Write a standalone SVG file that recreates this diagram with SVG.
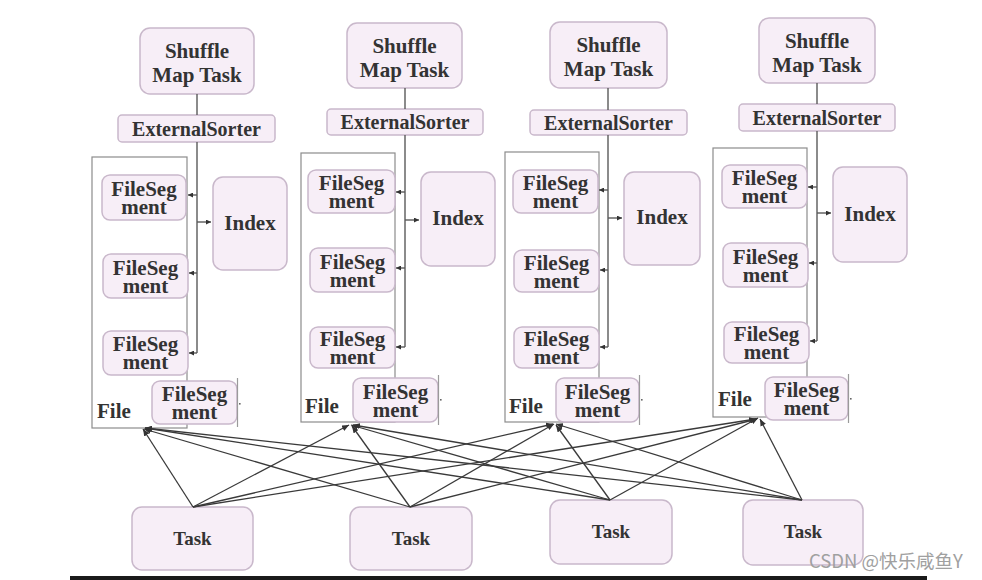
<svg xmlns="http://www.w3.org/2000/svg" width="982" height="580" viewBox="0 0 982 580">
<style>
.box{fill:#f7eef7;stroke:#c9b8cb;stroke-width:1.5}
.file{fill:none;stroke:#8c8c8c;stroke-width:1.2}
.t{font-family:"Liberation Serif","Times New Roman",serif;font-weight:bold;font-size:21px;fill:#333;text-anchor:middle}
.es{font-size:20px}
.task{font-size:19px}
.lft{text-anchor:start}
.wire{stroke:#5a5a5a;stroke-width:1.4;fill:none}
.link{stroke:#3a3a3a;stroke-width:1.3;fill:none}
.edge{stroke:#9a9a9a;stroke-width:1.2}
.wm{font-family:"Noto Sans CJK SC","Noto Sans",sans-serif;font-size:18.5px;fill:#a0a0a0}
</style>
<defs>
<marker id="ah" markerUnits="userSpaceOnUse" markerWidth="7" markerHeight="6" refX="7" refY="3" orient="auto">
<path d="M0,0 L7,3 L0,6 z" fill="#333"/>
</marker>
<marker id="as" markerUnits="userSpaceOnUse" markerWidth="5" markerHeight="5" refX="5" refY="2.5" orient="auto">
<path d="M0,0 L5,2.5 L0,5 z" fill="#333"/>
</marker>
</defs>
<rect width="982" height="580" fill="#fff"/>

<!-- Column 1 -->
<g id="file1"><rect class="file" x="92" y="157" width="95" height="271"/><text class="t lft" x="97" y="418">File</text></g>
<g id="smt1"><rect class="box" x="140" y="28" width="114" height="66" rx="10"/><text class="t" x="197" y="58">Shuffle</text><text class="t" x="197" y="82">Map Task</text></g>
<g id="es1"><rect class="box" x="118" y="115" width="157" height="27" rx="4"/><text class="t es" x="196.5" y="135.5">ExternalSorter</text></g>
<g id="fs1a"><rect class="box" x="102" y="175" width="84" height="45" rx="8"/><text class="t" x="144" y="195.5">FileSeg</text><text class="t" x="144" y="213.5">ment</text></g>
<g id="idx1"><rect class="box" x="213" y="177" width="74" height="93" rx="10"/><text class="t" x="250" y="230">Index</text></g>
<g id="fs1b"><rect class="box" x="103" y="254" width="85" height="44" rx="8"/><text class="t" x="145.5" y="274.5">FileSeg</text><text class="t" x="145.5" y="292.5">ment</text></g>
<g id="fs1c"><rect class="box" x="103" y="331" width="85" height="44" rx="8"/><text class="t" x="145.5" y="351">FileSeg</text><text class="t" x="145.5" y="369">ment</text></g>
<g id="fs1d"><rect class="box" x="152" y="381" width="85" height="43" rx="8"/><line class="edge" x1="237.5" y1="378" x2="237.5" y2="427"/><rect x="239" y="403" width="1.6" height="1.6" fill="#666"/><text class="t" x="194.5" y="401">FileSeg</text><text class="t" x="194.5" y="419">ment</text></g>

<!-- Column 2 -->
<g id="file2"><rect class="file" x="301" y="153" width="94" height="269"/><text class="t lft" x="305" y="413">File</text></g>
<g id="smt2"><rect class="box" x="347" y="23" width="115" height="65" rx="10"/><text class="t" x="404.5" y="53">Shuffle</text><text class="t" x="404.5" y="77">Map Task</text></g>
<g id="es2"><rect class="box" x="327" y="109" width="156" height="26" rx="4"/><text class="t es" x="405" y="129">ExternalSorter</text></g>
<g id="fs2a"><rect class="box" x="308" y="170" width="87" height="43" rx="8"/><text class="t" x="351.5" y="190">FileSeg</text><text class="t" x="351.5" y="208">ment</text></g>
<g id="idx2"><rect class="box" x="421" y="172" width="74" height="94" rx="10"/><text class="t" x="458" y="225">Index</text></g>
<g id="fs2b"><rect class="box" x="310" y="248" width="85" height="44" rx="8"/><text class="t" x="352.5" y="268.5">FileSeg</text><text class="t" x="352.5" y="286.5">ment</text></g>
<g id="fs2c"><rect class="box" x="310" y="327" width="85" height="41" rx="8"/><text class="t" x="352.5" y="346">FileSeg</text><text class="t" x="352.5" y="364">ment</text></g>
<g id="fs2d"><rect class="box" x="353" y="378" width="85" height="44" rx="8"/><line class="edge" x1="438.5" y1="375" x2="438.5" y2="425"/><rect x="440" y="399" width="1.6" height="1.6" fill="#666"/><text class="t" x="395.5" y="398.5">FileSeg</text><text class="t" x="395.5" y="416.5">ment</text></g>

<!-- Column 3 -->
<g id="file3"><rect class="file" x="505" y="152" width="94" height="270"/><text class="t lft" x="509" y="413">File</text></g>
<g id="smt3"><rect class="box" x="550" y="22" width="117" height="66" rx="10"/><text class="t" x="608.5" y="52">Shuffle</text><text class="t" x="608.5" y="76">Map Task</text></g>
<g id="es3"><rect class="box" x="530" y="110" width="157" height="25" rx="4"/><text class="t es" x="608.5" y="129.5">ExternalSorter</text></g>
<g id="fs3a"><rect class="box" x="513" y="170" width="85" height="43" rx="8"/><text class="t" x="555.5" y="190">FileSeg</text><text class="t" x="555.5" y="208">ment</text></g>
<g id="idx3"><rect class="box" x="624" y="172" width="76" height="93" rx="10"/><text class="t" x="662" y="224">Index</text></g>
<g id="fs3b"><rect class="box" x="514" y="250" width="85" height="42" rx="8"/><text class="t" x="556.5" y="269.5">FileSeg</text><text class="t" x="556.5" y="287.5">ment</text></g>
<g id="fs3c"><rect class="box" x="514" y="327" width="85" height="41" rx="8"/><text class="t" x="556.5" y="346">FileSeg</text><text class="t" x="556.5" y="364">ment</text></g>
<g id="fs3d"><rect class="box" x="556" y="378" width="83" height="44" rx="8"/><line class="edge" x1="639.5" y1="375" x2="639.5" y2="425"/><rect x="641" y="399" width="1.6" height="1.6" fill="#666"/><text class="t" x="597.5" y="398.5">FileSeg</text><text class="t" x="597.5" y="416.5">ment</text></g>

<!-- Column 4 -->
<g id="file4"><rect class="file" x="713" y="148" width="94" height="269"/><text class="t lft" x="718" y="406">File</text></g>
<g id="smt4"><rect class="box" x="759" y="18" width="116" height="65" rx="10"/><text class="t" x="817" y="47.5">Shuffle</text><text class="t" x="817" y="71.5">Map Task</text></g>
<g id="es4"><rect class="box" x="739" y="104" width="156" height="27" rx="4"/><text class="t es" x="817" y="124.5">ExternalSorter</text></g>
<g id="fs4a"><rect class="box" x="722" y="165" width="85" height="43" rx="8"/><text class="t" x="764.5" y="185">FileSeg</text><text class="t" x="764.5" y="203">ment</text></g>
<g id="idx4"><rect class="box" x="833" y="167" width="74" height="95" rx="10"/><text class="t" x="870" y="221">Index</text></g>
<g id="fs4b"><rect class="box" x="723" y="243" width="85" height="44" rx="8"/><text class="t" x="765.5" y="263.5">FileSeg</text><text class="t" x="765.5" y="281.5">ment</text></g>
<g id="fs4c"><rect class="box" x="724" y="322" width="85" height="41" rx="8"/><text class="t" x="766.5" y="341">FileSeg</text><text class="t" x="766.5" y="359">ment</text></g>
<g id="fs4d"><rect class="box" x="765" y="377" width="83" height="43" rx="8"/><line class="edge" x1="848.5" y1="374" x2="848.5" y2="423"/><rect x="850" y="398" width="1.6" height="1.6" fill="#666"/><text class="t" x="806.5" y="397">FileSeg</text><text class="t" x="806.5" y="415">ment</text></g>

<!-- Tasks -->
<g id="task1"><rect class="box" x="132" y="507" width="121" height="63" rx="10"/><text class="t task" x="192.5" y="545">Task</text></g>
<g id="task2"><rect class="box" x="350" y="507" width="122" height="63" rx="10"/><text class="t task" x="411" y="545">Task</text></g>
<g id="task3"><rect class="box" x="550" y="500" width="122" height="64" rx="10"/><text class="t task" x="611" y="538">Task</text></g>
<g id="task4"><rect class="box" x="743" y="500" width="120" height="65" rx="10"/><text class="t task" x="803" y="538">Task</text></g>

<!-- Connectors -->
<g id="connectors">
<line class="wire" x1="197" y1="94" x2="197" y2="115"/>
<line class="wire" x1="197" y1="142" x2="197" y2="353"/>
<line class="wire" x1="197" y1="195" x2="188" y2="195" marker-end="url(#as)"/>
<line class="wire" x1="197" y1="222" x2="211" y2="222" marker-end="url(#as)"/>
<line class="wire" x1="197" y1="273" x2="189" y2="273" marker-end="url(#as)"/>
<line class="wire" x1="197" y1="353" x2="189" y2="353" marker-end="url(#as)"/>
<line class="wire" x1="405" y1="88" x2="405" y2="109"/>
<line class="wire" x1="405" y1="135" x2="405" y2="347"/>
<line class="wire" x1="405" y1="192" x2="396" y2="192" marker-end="url(#as)"/>
<line class="wire" x1="405" y1="220" x2="419" y2="220" marker-end="url(#as)"/>
<line class="wire" x1="405" y1="268" x2="396" y2="268" marker-end="url(#as)"/>
<line class="wire" x1="405" y1="347" x2="396" y2="347" marker-end="url(#as)"/>
<line class="wire" x1="608" y1="88" x2="608" y2="110"/>
<line class="wire" x1="608" y1="135" x2="608" y2="347"/>
<line class="wire" x1="608" y1="190" x2="599" y2="190" marker-end="url(#as)"/>
<line class="wire" x1="608" y1="218" x2="622" y2="218" marker-end="url(#as)"/>
<line class="wire" x1="608" y1="270" x2="600" y2="270" marker-end="url(#as)"/>
<line class="wire" x1="608" y1="347" x2="600" y2="347" marker-end="url(#as)"/>
<line class="wire" x1="817" y1="83" x2="817" y2="104"/>
<line class="wire" x1="817" y1="131" x2="817" y2="341"/>
<line class="wire" x1="817" y1="187" x2="808" y2="187" marker-end="url(#as)"/>
<line class="wire" x1="817" y1="213" x2="831" y2="213" marker-end="url(#as)"/>
<line class="wire" x1="817" y1="263" x2="809" y2="263" marker-end="url(#as)"/>
<line class="wire" x1="817" y1="341" x2="810" y2="341" marker-end="url(#as)"/>
<line class="link" x1="193" y1="507" x2="143" y2="429" marker-end="url(#ah)"/>
<line class="link" x1="193" y1="507" x2="349" y2="425" marker-end="url(#ah)"/>
<line class="link" x1="193" y1="507" x2="553" y2="424" marker-end="url(#ah)"/>
<line class="link" x1="193" y1="507" x2="756" y2="419" marker-end="url(#ah)"/>
<line class="link" x1="410" y1="507" x2="144" y2="429" marker-end="url(#ah)"/>
<line class="link" x1="410" y1="507" x2="352" y2="426" marker-end="url(#ah)"/>
<line class="link" x1="410" y1="507" x2="554" y2="424" marker-end="url(#ah)"/>
<line class="link" x1="410" y1="507" x2="757" y2="419" marker-end="url(#ah)"/>
<line class="link" x1="610" y1="500" x2="145" y2="428" marker-end="url(#ah)"/>
<line class="link" x1="610" y1="500" x2="351" y2="425" marker-end="url(#ah)"/>
<line class="link" x1="610" y1="500" x2="556" y2="425" marker-end="url(#ah)"/>
<line class="link" x1="610" y1="500" x2="758" y2="418" marker-end="url(#ah)"/>
<line class="link" x1="802" y1="500" x2="145" y2="428" marker-end="url(#ah)"/>
<line class="link" x1="802" y1="500" x2="353" y2="425" marker-end="url(#ah)"/>
<line class="link" x1="802" y1="500" x2="556" y2="424" marker-end="url(#ah)"/>
<line class="link" x1="802" y1="500" x2="760" y2="419" marker-end="url(#ah)"/>
</g>

<text class="wm" x="809" y="568">CSDN @快乐咸鱼Y</text>
<rect x="70" y="576" width="857" height="4" fill="#1a1a1a"/>
</svg>
